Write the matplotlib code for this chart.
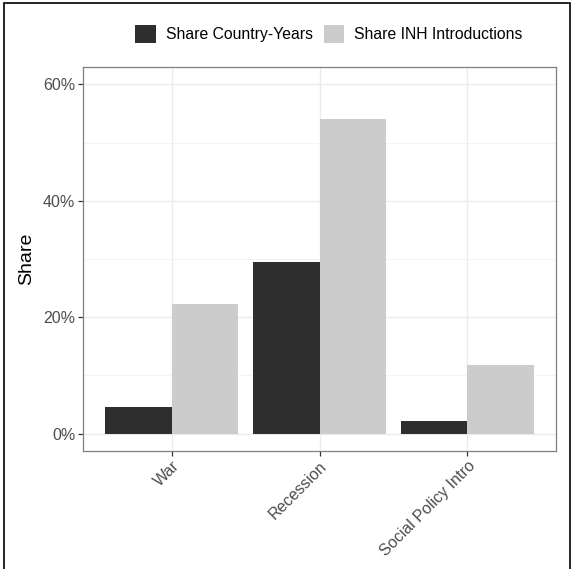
import numpy as np
import matplotlib
matplotlib.use("Agg")
import matplotlib.pyplot as plt
from matplotlib.patches import Rectangle, Patch
from matplotlib.ticker import FuncFormatter, MultipleLocator

plt.rcParams['font.family'] = ['Liberation Sans', 'DejaVu Sans']

categories = ["War", "Recession", "Social Policy Intro"]
share_country_years = [0.045, 0.295, 0.021]
share_inh = [0.223, 0.540, 0.117]
series_labels = ["Share Country-Years", "Share INH Introductions"]
colors = ["#2e2e2e", "#cccccc"]

fig = plt.figure(figsize=(5.73, 5.69), dpi=100)
ax = fig.add_axes([83/573, 1 - 451/569, (556-83)/573, (451-67)/569])

x = np.arange(len(categories))
w = 0.45
ax.bar(x - w/2, share_country_years, width=w, color=colors[0], zorder=3)
ax.bar(x + w/2, share_inh, width=w, color=colors[1], zorder=3)

ax.set_xlim(-0.6, len(categories) - 0.4)
ax.set_ylim(-0.03, 0.63)
ax.set_xticks(x)
ax.set_xticklabels(categories, rotation=45, ha='right', rotation_mode='anchor')
ax.yaxis.set_major_locator(MultipleLocator(0.2))
ax.yaxis.set_minor_locator(MultipleLocator(0.1))
ax.yaxis.set_major_formatter(FuncFormatter(lambda v, p: f"{v*100:.0f}%"))

ax.grid(True, which='major', color='#ebebeb', linewidth=1.0, zorder=0)
ax.grid(True, which='minor', axis='y', color='#f3f3f3', linewidth=0.6, zorder=0)
ax.set_axisbelow(True)
for s in ax.spines.values():
    s.set_color('#7f7f7f')
    s.set_linewidth(0.9)
ax.tick_params(axis='both', which='major', color='#333333', length=3.5, width=0.9,
               labelsize=11.5, labelcolor='#4d4d4d', pad=2)
ax.tick_params(axis='y', which='minor', length=0)
ax.set_ylabel("Share", fontsize=14, color='black', labelpad=6)

handles = [Patch(facecolor=c, edgecolor='none') for c in colors]
fig.legend(handles, series_labels, loc='center', bbox_to_anchor=(329/573, 1 - 34/569),
           ncol=2, frameon=False, fontsize=11.3, handlelength=1.3, handleheight=1.3,
           handletextpad=0.65, columnspacing=0.7)

fig.patches.append(Rectangle((4/573, -0.01), 566/573, 1.01 - 3/569, transform=fig.transFigure,
                             fill=False, edgecolor='black', linewidth=1.2))

fig.savefig("out.png", dpi=100)
